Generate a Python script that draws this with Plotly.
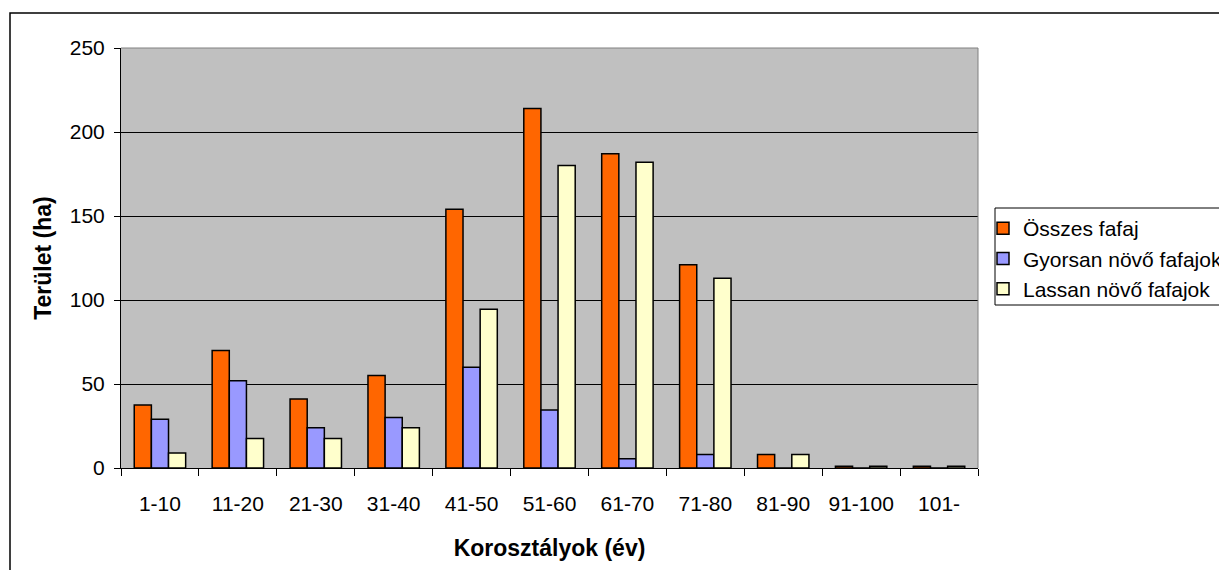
import plotly.graph_objects as go

categories = ["1-10", "11-20", "21-30", "31-40", "41-50", "51-60", "61-70", "71-80", "81-90", "91-100", "101-"]
osszes = [37.5, 70, 41, 55, 154, 214, 187, 121, 8, 1, 1]
gyorsan = [29, 52, 24, 30, 60, 34.5, 5.5, 8, 0, 0, 0]
lassan = [9, 17.5, 17.5, 24, 94.5, 180, 182, 113, 8, 1, 1]
series_names = ["Összes fafaj", "Gyorsan növő fafajok", "Lassan növő fafajok"]
colors = ["#FF6600", "#9999FF", "#FFFFCC"]

# page body has an 8px margin, so the figure is drawn 8px smaller and shifted
OFF = 8
WIN_W, WIN_H = 1227, 570
W, H = WIN_W - OFF, WIN_H - OFF
# plot area in window (reference) pixel coordinates
L, R, T, B = 121, 978, 48, 468
pw, ph = R - L, B - T


def px(x):
    return (x - L) / pw


def py(y):
    return (B - y) / ph


FONT = "Liberation Sans, Arial, sans-serif"

fig = go.Figure()
for i, (name, vals, col) in enumerate(zip(series_names, [osszes, gyorsan, lassan], colors)):
    fig.add_trace(go.Bar(
        x=categories, y=vals, name=name, legendgroup=f"g{i}",
        marker=dict(color=col, line=dict(color="black", width=1.5)),
    ))

fig.update_layout(
    width=W, height=H,
    margin=dict(l=L - OFF, r=W - (R - OFF), t=T - OFF, b=H - (B - OFF), pad=0, autoexpand=False),
    paper_bgcolor="white",
    plot_bgcolor="#C0C0C0",
    barmode="group",
    bargap=0.34,
    bargroupgap=0,
    font=dict(family=FONT, size=21, color="black"),
    showlegend=True,
    legend=dict(
        x=px(983), y=py(208), xanchor="left", yanchor="top",
        borderwidth=0, bgcolor="rgba(0,0,0,0)",
        font=dict(family=FONT, size=21, color="black"),
        tracegroupgap=0, traceorder="grouped",
    ),
    xaxis=dict(
        showgrid=False, showline=True, linecolor="black", linewidth=1,
        ticks="outside", ticklen=7, tickcolor="black", tickson="boundaries",
        ticklabelstandoff=17,
        tickfont=dict(family=FONT, size=21),
        title=dict(text="<b>Korosztályok (év)</b>", font=dict(family=FONT, size=23), standoff=25),
    ),
    yaxis=dict(
        range=[0, 250], dtick=50, showgrid=True, gridcolor="black", gridwidth=1,
        showline=True, linecolor="black", linewidth=1,
        ticks="outside", ticklen=6, tickcolor="black",
        ticklabelstandoff=5,
        tickfont=dict(family=FONT, size=21),
        title=dict(text="<b>Terület (ha)</b>", font=dict(family=FONT, size=23), standoff=11),
        zeroline=False,
    ),
    shapes=[
        # outer chart border
        dict(type="rect", xref="paper", yref="paper",
             x0=px(10), x1=px(1260), y0=py(600), y1=py(13),
             line=dict(color="black", width=1.5), fillcolor="rgba(0,0,0,0)", layer="below"),
        # plot area top / right border
        dict(type="line", xref="paper", yref="paper", x0=0, x1=1, y0=1, y1=1,
             line=dict(color="#808080", width=1)),
        dict(type="line", xref="paper", yref="paper", x0=1, x1=1, y0=0, y1=1,
             line=dict(color="#808080", width=1)),
        # legend box
        dict(type="rect", xref="paper", yref="paper",
             x0=px(995), x1=px(1260), y0=py(305), y1=py(208),
             line=dict(color="black", width=1), fillcolor="white", layer="below"),
    ],
)

fig.write_html("out.html")
